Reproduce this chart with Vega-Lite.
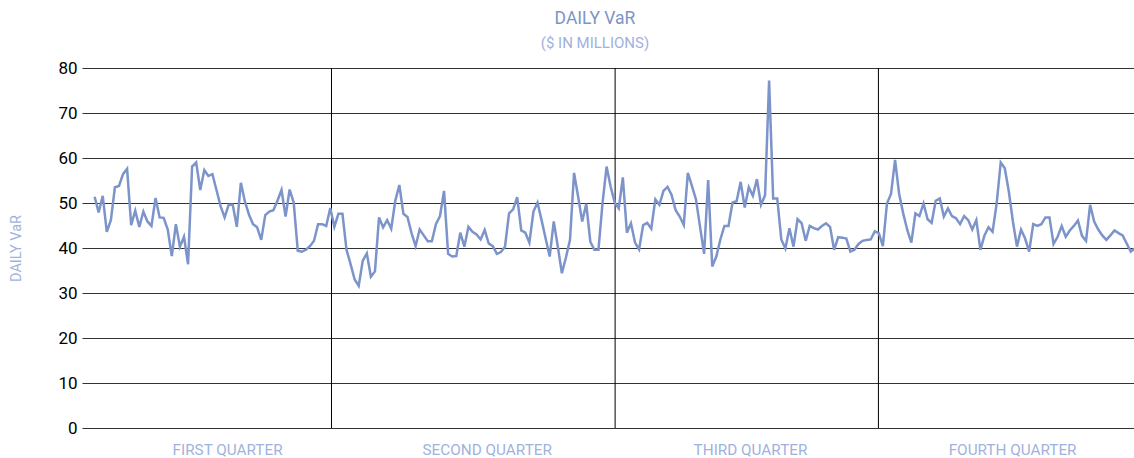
{
"$schema": "https://vega.github.io/schema/vega-lite/v6.json",
"width": 1052,
"height": 360,
"autosize": "none",
"padding": {"left": 82, "top": 68, "right": 0, "bottom": 30},
"background": "white",
"config": {"view": {"stroke": null}, "font": "Roboto"},
"title": {"text": "DAILY VaR", "subtitle": "($ IN MILLIONS)", "font": "Roboto", "fontSize": 17.5, "fontWeight": "normal", "color": "#7d94c7", "subtitleFont": "Roboto", "subtitleFontSize": 15, "subtitleColor": "#9fb2dc", "subtitlePadding": 9, "offset": 8, "dx": -13, "anchor": "middle", "frame": "group"},
"datasets": {
"dividers": [{"b": 59.3}, {"b": 129.1}, {"b": 193.9}],
"var": [
{"d":1,"v":51.4},{"d":2,"v":47.9},{"d":3,"v":51.6},{"d":4,"v":43.6},{"d":5,"v":46.2},{"d":6,"v":53.5},{"d":7,"v":53.8},{"d":8,"v":56.4},{"d":9,"v":57.6},{"d":10,"v":45.1},
{"d":11,"v":48.3},{"d":12,"v":44.7},{"d":13,"v":48.1},{"d":14,"v":45.9},{"d":15,"v":44.9},{"d":16,"v":51.1},{"d":17,"v":46.8},{"d":18,"v":46.7},{"d":19,"v":44.1},{"d":20,"v":38.2},
{"d":21,"v":45.3},{"d":22,"v":40.3},{"d":23,"v":42.5},{"d":24,"v":36.4},{"d":25,"v":58.1},{"d":26,"v":59.0},{"d":27,"v":52.9},{"d":28,"v":57.3},{"d":29,"v":56.0},{"d":30,"v":56.4},
{"d":31,"v":52.9},{"d":32,"v":49.3},{"d":33,"v":46.8},{"d":34,"v":49.6},{"d":35,"v":49.6},{"d":36,"v":44.7},{"d":37,"v":54.5},{"d":38,"v":50.3},{"d":39,"v":47.4},{"d":40,"v":45.3},
{"d":41,"v":44.6},{"d":42,"v":41.8},{"d":43,"v":47.3},{"d":44,"v":48.1},{"d":45,"v":48.4},{"d":46,"v":50.5},{"d":47,"v":52.9},{"d":48,"v":47.0},{"d":49,"v":53.0},{"d":50,"v":50.1},
{"d":51,"v":39.4},{"d":52,"v":39.2},{"d":53,"v":39.6},{"d":54,"v":40.4},{"d":55,"v":41.6},{"d":56,"v":45.3},{"d":57,"v":45.3},{"d":58,"v":44.9},{"d":59,"v":48.9},{"d":60,"v":44.7},
{"d":61,"v":47.6},{"d":62,"v":47.6},{"d":63,"v":39.6},{"d":64,"v":36.4},{"d":65,"v":33.0},{"d":66,"v":31.6},{"d":67,"v":37.2},{"d":68,"v":38.8},{"d":69,"v":33.6},{"d":70,"v":34.8},
{"d":71,"v":46.8},{"d":72,"v":44.6},{"d":73,"v":46.2},{"d":74,"v":44.3},{"d":75,"v":50.5},{"d":76,"v":54.0},{"d":77,"v":47.6},{"d":78,"v":46.9},{"d":79,"v":43.3},{"d":80,"v":40.4},
{"d":81,"v":44.1},{"d":82,"v":42.8},{"d":83,"v":41.5},{"d":84,"v":41.5},{"d":85,"v":45.3},{"d":86,"v":47.1},{"d":87,"v":52.7},{"d":88,"v":38.7},{"d":89,"v":38.1},{"d":90,"v":38.2},
{"d":91,"v":43.4},{"d":92,"v":40.3},{"d":93,"v":44.7},{"d":94,"v":43.6},{"d":95,"v":43.0},{"d":96,"v":41.9},{"d":97,"v":44.0},{"d":98,"v":41.0},{"d":99,"v":40.4},{"d":100,"v":38.7},
{"d":101,"v":39.1},{"d":102,"v":40.3},{"d":103,"v":47.7},{"d":104,"v":48.6},{"d":105,"v":51.3},{"d":106,"v":43.9},{"d":107,"v":43.4},{"d":108,"v":41.2},{"d":109,"v":48.1},{"d":110,"v":50.1},
{"d":111,"v":46.2},{"d":112,"v":42.1},{"d":113,"v":38.1},{"d":114,"v":45.9},{"d":115,"v":40.3},{"d":116,"v":34.4},{"d":117,"v":37.9},{"d":118,"v":41.8},{"d":119,"v":56.7},{"d":120,"v":51.4},
{"d":121,"v":45.9},{"d":122,"v":49.8},{"d":123,"v":41.4},{"d":124,"v":39.6},{"d":125,"v":39.6},{"d":126,"v":49.9},{"d":127,"v":58.1},{"d":128,"v":53.6},{"d":129,"v":50.1},{"d":130,"v":48.8},
{"d":131,"v":55.7},{"d":132,"v":43.4},{"d":133,"v":45.5},{"d":134,"v":41.2},{"d":135,"v":39.7},{"d":136,"v":45.1},{"d":137,"v":45.6},{"d":138,"v":44.3},{"d":139,"v":50.8},{"d":140,"v":49.6},
{"d":141,"v":52.7},{"d":142,"v":53.6},{"d":143,"v":51.8},{"d":144,"v":48.4},{"d":145,"v":47.0},{"d":146,"v":45.1},{"d":147,"v":56.7},{"d":148,"v":53.8},{"d":149,"v":50.8},{"d":150,"v":44.7},
{"d":151,"v":38.7},{"d":152,"v":55.1},{"d":153,"v":35.9},{"d":154,"v":38.1},{"d":155,"v":41.9},{"d":156,"v":44.9},{"d":157,"v":44.9},{"d":158,"v":50.1},{"d":159,"v":50.4},{"d":160,"v":54.7},
{"d":161,"v":49.0},{"d":162,"v":53.5},{"d":163,"v":51.6},{"d":164,"v":55.3},{"d":165,"v":49.6},{"d":166,"v":51.7},{"d":167,"v":77.2},{"d":168,"v":51.0},{"d":169,"v":51.0},{"d":170,"v":41.9},
{"d":171,"v":39.9},{"d":172,"v":44.4},{"d":173,"v":40.3},{"d":174,"v":46.4},{"d":175,"v":45.5},{"d":176,"v":41.6},{"d":177,"v":44.9},{"d":178,"v":44.4},{"d":179,"v":44.1},{"d":180,"v":44.9},
{"d":181,"v":45.5},{"d":182,"v":44.7},{"d":183,"v":39.6},{"d":184,"v":42.4},{"d":185,"v":42.3},{"d":186,"v":42.1},{"d":187,"v":39.2},{"d":188,"v":39.6},{"d":189,"v":40.9},{"d":190,"v":41.6},
{"d":191,"v":41.8},{"d":192,"v":41.9},{"d":193,"v":43.7},{"d":194,"v":43.3},{"d":195,"v":40.4},{"d":196,"v":49.9},{"d":197,"v":52.0},{"d":198,"v":59.6},{"d":199,"v":52.0},{"d":200,"v":47.7},
{"d":201,"v":44.0},{"d":202,"v":41.2},{"d":203,"v":47.7},{"d":204,"v":47.1},{"d":205,"v":49.9},{"d":206,"v":46.4},{"d":207,"v":45.6},{"d":208,"v":50.5},{"d":209,"v":51.0},{"d":210,"v":47.0},
{"d":211,"v":48.8},{"d":212,"v":47.1},{"d":213,"v":46.6},{"d":214,"v":45.3},{"d":215,"v":47.1},{"d":216,"v":46.2},{"d":217,"v":44.1},{"d":218,"v":46.2},{"d":219,"v":39.6},{"d":220,"v":42.8},
{"d":221,"v":44.6},{"d":222,"v":43.6},{"d":223,"v":49.9},{"d":224,"v":59.0},{"d":225,"v":57.7},{"d":226,"v":52.5},{"d":227,"v":45.9},{"d":228,"v":40.3},{"d":229,"v":44.1},{"d":230,"v":42.1},
{"d":231,"v":39.2},{"d":232,"v":45.3},{"d":233,"v":44.9},{"d":234,"v":45.3},{"d":235,"v":46.8},{"d":236,"v":46.8},{"d":237,"v":40.9},{"d":238,"v":42.5},{"d":239,"v":44.9},{"d":240,"v":42.5},
{"d":241,"v":43.9},{"d":242,"v":44.9},{"d":243,"v":46.1},{"d":244,"v":42.7},{"d":245,"v":41.6},{"d":246,"v":49.6},{"d":247,"v":45.9},{"d":248,"v":44.1},{"d":249,"v":42.8},{"d":250,"v":41.8},
{"d":251,"v":42.8},{"d":252,"v":43.9},{"d":253,"v":43.3},{"d":254,"v":42.8},{"d":255,"v":41.0},{"d":256,"v":39.2},{"d":257,"v":39.9}
]
},
"layer": [
{
"data": {"name": "dividers"},
"mark": {"type": "rule", "color": "#000", "strokeWidth": 1},
"encoding": {"x": {"field": "b", "type": "quantitative"}}
},
{
"data": {"name": "var"},
"mark": {"type": "line", "color": "#7c94c9", "strokeWidth": 2.5, "clip": true},
"encoding": {
"x": {"field": "d", "type": "quantitative", "scale": {"domain": [-2.1, 256.8], "nice": false, "zero": false},
"axis": {"title": null, "domain": false, "ticks": false, "grid": false, "values": [33.6, 97.5, 162.3, 226.8], "labelExpr": "datum.value < 60 ? 'FIRST QUARTER' : datum.value < 130 ? 'SECOND QUARTER' : datum.value < 194 ? 'THIRD QUARTER' : 'FOURTH QUARTER'", "labelFont": "Roboto", "labelFontSize": 15.3, "labelColor": "#9fb2dc", "labelPadding": 14, "labelFlush": false, "labelOverlap": false}},
"y": {"field": "v", "type": "quantitative", "scale": {"domain": [0, 80], "nice": false},
"axis": {"title": "DAILY VaR", "titleFont": "Roboto", "titleFontSize": 14.5, "titleFontWeight": "normal", "titleColor": "#9fb2dc", "titlePadding": 34, "domain": false, "ticks": false, "grid": true, "gridColor": "#333", "gridWidth": 1, "values": [0,10,20,30,40,50,60,70,80], "labelFont": "Roboto", "labelFontSize": 17, "labelColor": "#000", "labelPadding": 5}}
}
}
]
}
